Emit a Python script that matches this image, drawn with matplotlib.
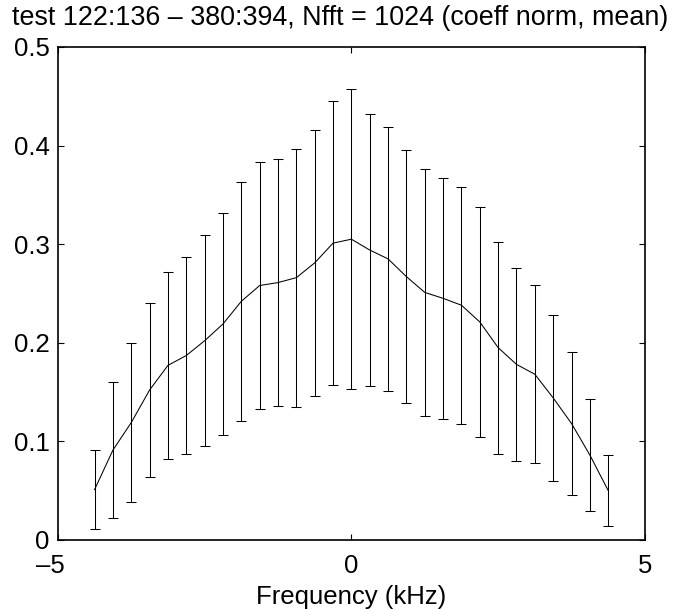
import numpy as np
import matplotlib
matplotlib.use("Agg")
import matplotlib.pyplot as plt

plt.rcParams['font.family'] = ['Liberation Sans', 'DejaVu Sans']

# frequency bins (kHz), spaced 0.3125 kHz
freq = [-4.375, -4.0625, -3.75, -3.4375, -3.125, -2.8125, -2.5, -2.1875, -1.875,
        -1.5625, -1.25, -0.9375, -0.625, -0.3125, 0.0, 0.3125, 0.625, 0.9375,
        1.25, 1.5625, 1.875, 2.1875, 2.5, 2.8125, 3.125, 3.4375, 3.75, 4.0625, 4.375]

# mean coefficient per bin
mean_coeff = [0.051, 0.091, 0.119, 0.152, 0.177, 0.187, 0.202, 0.219, 0.242,
              0.258, 0.261, 0.266, 0.281, 0.301, 0.305, 0.294, 0.285, 0.267,
              0.251, 0.245, 0.238, 0.221, 0.195, 0.178, 0.168, 0.144, 0.118,
              0.086, 0.050]

# half-length of the error bars
err = [0.040, 0.069, 0.081, 0.088, 0.095, 0.100, 0.107, 0.113, 0.121,
       0.125, 0.125, 0.131, 0.135, 0.144, 0.152, 0.138, 0.1335, 0.1285,
       0.125, 0.122, 0.120, 0.1165, 0.1075, 0.098, 0.0905, 0.0845, 0.0725,
       0.0565, 0.036]

xticks = [-5, 0, 5]
# figure space after -5 so the digit (not the dash) sits under the tick, as MATLAB does
xtick_labels = ['\u20135\u2007', '0', '5']
yticks = [0, 0.1, 0.2, 0.3, 0.4, 0.5]
ytick_labels = ['0', '0.1', '0.2', '0.3', '0.4', '0.5']

fig = plt.figure(figsize=(6.81, 6.10), dpi=100)
ax = fig.add_axes([0.085, 0.115, 0.862, 0.808])

ax.errorbar(freq, mean_coeff, yerr=err, color='black', linewidth=0.75,
            elinewidth=0.75, capsize=3.8, capthick=0.75)

ax.set_xlim(-5, 5)
ax.set_ylim(0, 0.5)
ax.set_xticks(xticks, labels=xtick_labels)
ax.set_yticks(yticks, labels=ytick_labels)
ax.tick_params(direction='in', top=True, right=True, length=4.3, width=0.8,
               labelsize=18.5)
ax.tick_params(axis='y', pad=6)
ax.tick_params(axis='x', pad=10)
for s in ax.spines.values():
    s.set_linewidth(1.2)

ax.set_xlabel('Frequency (kHz)', fontsize=18.5, labelpad=5.5)
# title is centred on the figure rather than on the axes
ax.set_title('test 122:136 \u2013 380:394, Nfft = 1024 (coeff norm, mean)',
             fontsize=19.4, pad=16, x=0.481)

fig.savefig('out.png', dpi=100)
